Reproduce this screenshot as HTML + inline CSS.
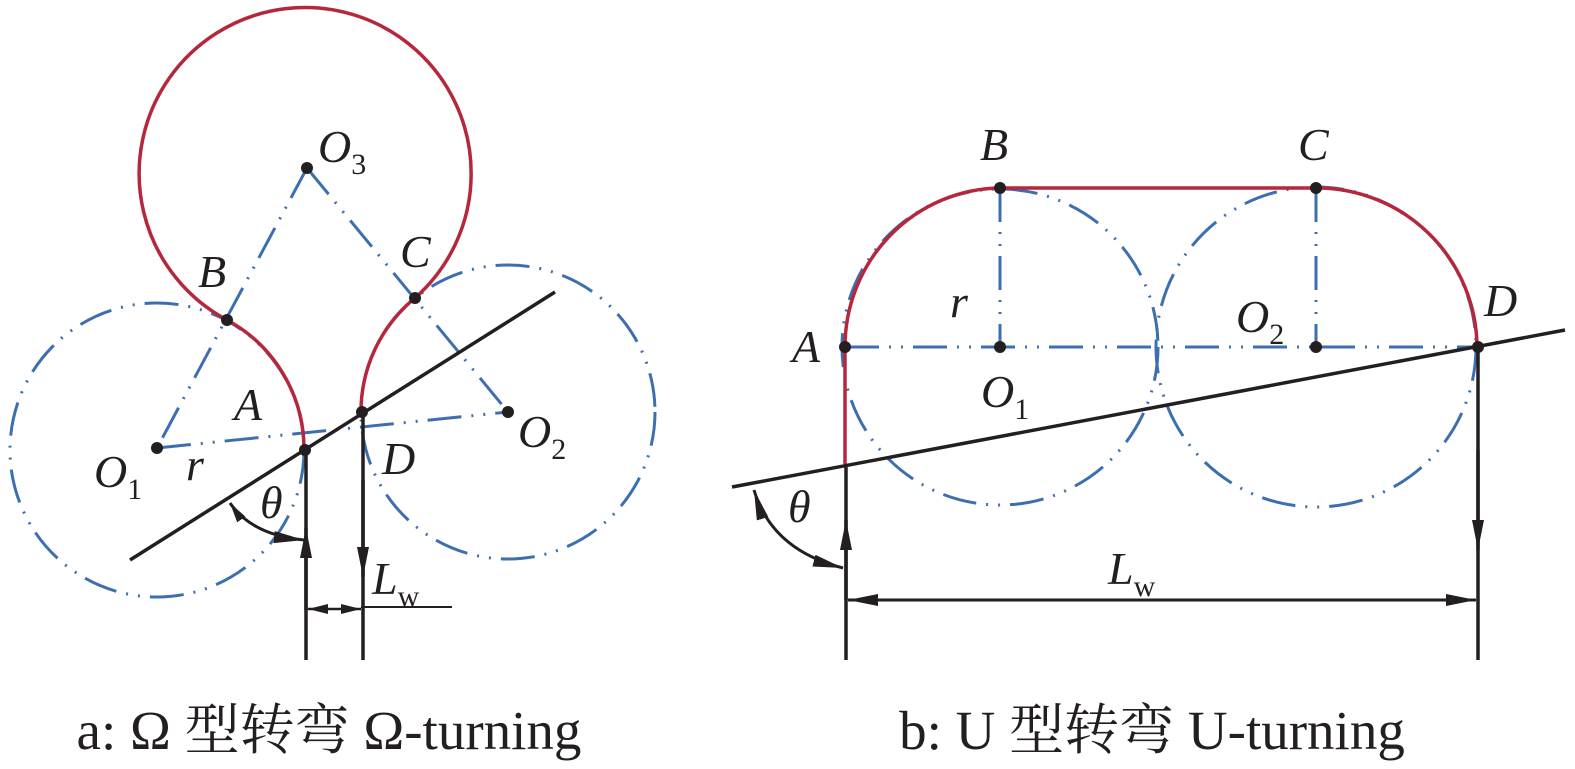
<!DOCTYPE html>
<html><head><meta charset="utf-8"><style>
html,body{margin:0;padding:0;background:#fff;}
svg{display:block;}
text{font-family:"Liberation Serif","Noto Serif CJK SC",serif;fill:#231f20;}
.it{font-style:italic;font-size:46px;}
.sub{font-size:30px;font-style:normal;}
</style></head><body>
<svg width="1575" height="769" viewBox="0 0 1575 769" xmlns="http://www.w3.org/2000/svg">
<defs>
<marker id="ah" viewBox="0 0 30 12" refX="30" refY="6" markerWidth="30" markerHeight="12" markerUnits="userSpaceOnUse" orient="auto-start-reverse"><path d="M0,0 L30,6 L0,12 Z" fill="#231f20"/></marker>
<marker id="as" viewBox="0 0 20 10" refX="20" refY="5" markerWidth="20" markerHeight="10" markerUnits="userSpaceOnUse" orient="auto-start-reverse"><path d="M0,0 L20,5 L0,10 Z" fill="#231f20"/></marker>
</defs>
<g fill="none" stroke-linecap="butt">
<g stroke="#3d6fb0" stroke-width="3" stroke-dasharray="34 10 2 10 2 10">
<circle cx="157" cy="450" r="147"/>
<circle cx="508" cy="412" r="147"/>
<path d="M307,168 L157,448 M307,168 L508,412 M157,448 L508,412"/>
</g>
<path d="M227,320 A147,147 0 0 1 304,450" stroke="#b5273a" stroke-width="3.5"/>
<path d="M227,320 A166,166 0 1 1 415,298" stroke="#b5273a" stroke-width="3.5"/>
<path d="M415,298 A147,147 0 0 0 361,412" stroke="#b5273a" stroke-width="3.5"/>
<path d="M130,560 L555,292" stroke="#231f20" stroke-width="3.5"/>
<path d="M306,660 L306,450" stroke="#231f20" stroke-width="3.5"/>
<path d="M306,610 L306,528" stroke="#231f20" stroke-width="3.5" marker-end="url(#ah)"/>
<path d="M363,412 L363,660" stroke="#231f20" stroke-width="3.5"/>
<path d="M363,480 L363,577" stroke="#231f20" stroke-width="3.5" marker-end="url(#ah)"/>
<path d="M308,609 L361,609" stroke="#231f20" stroke-width="2.5" marker-start="url(#as)" marker-end="url(#as)"/>
<path d="M361,607 L452,607" stroke="#231f20" stroke-width="2"/>
<path d="M230,503 Q252,535 304,540" stroke="#231f20" stroke-width="3" marker-start="url(#as)" marker-end="url(#ah)"/>

<g stroke="#3d6fb0" stroke-width="3" stroke-dasharray="34 10 2 10 2 10">
<circle cx="1000" cy="347" r="158"/>
<circle cx="1316" cy="347" r="160"/>
<path d="M845,347 L1477,347 M1000,188 L1000,347 M1316,188 L1316,347"/>
</g>
<path d="M845,464 L845,347 A157,159 0 0 1 1000,188 L1316,188 A160,160 0 0 1 1477,347" stroke="#b5273a" stroke-width="3.5"/>
<path d="M732,487 L1565,330" stroke="#231f20" stroke-width="3.5"/>
<path d="M846,660 L846,464" stroke="#231f20" stroke-width="3.5"/>
<path d="M846,600 L846,520" stroke="#231f20" stroke-width="3.5" marker-end="url(#ah)"/>
<path d="M1478,348 L1478,660" stroke="#231f20" stroke-width="3.5"/>
<path d="M1478,450 L1478,550" stroke="#231f20" stroke-width="3.5" marker-end="url(#ah)"/>
<path d="M848,600 L1476,600" stroke="#231f20" stroke-width="3" marker-start="url(#ah)" marker-end="url(#ah)"/>
<path d="M754,490 Q772,550 843,568" stroke="#231f20" stroke-width="3" marker-start="url(#ah)" marker-end="url(#ah)"/>
</g>
<g fill="#231f20">
<circle cx="307" cy="168" r="6"/><circle cx="227" cy="320" r="6"/><circle cx="415" cy="298" r="6"/>
<circle cx="157" cy="448" r="6"/><circle cx="508" cy="412" r="6"/><circle cx="305" cy="450" r="6"/><circle cx="362" cy="412" r="6"/>
<circle cx="845" cy="347" r="6"/><circle cx="1000" cy="188" r="6"/><circle cx="1316" cy="188" r="6"/>
<circle cx="1000" cy="347" r="6"/><circle cx="1316" cy="347" r="6"/><circle cx="1478" cy="347" r="6"/>
</g>
<text class="it" x="318" y="162">O<tspan class="sub" dy="12">3</tspan></text>
<text class="it" x="198" y="287">B</text>
<text class="it" x="400" y="267">C</text>
<text class="it" x="234" y="420">A</text>
<text class="it" x="382" y="474">D</text>
<text class="it" x="94" y="487">O<tspan class="sub" dy="12">1</tspan></text>
<text class="it" x="186" y="480">r</text>
<text class="it" x="518" y="447">O<tspan class="sub" dy="12">2</tspan></text>
<text class="it" x="260" y="518">θ</text>
<text class="it" x="372" y="594">L<tspan class="sub" dy="12">w</tspan></text>
<text class="it" x="980" y="160">B</text>
<text class="it" x="1298" y="160">C</text>
<text class="it" x="950" y="317">r</text>
<text class="it" x="1236" y="332">O<tspan class="sub" dy="12">2</tspan></text>
<text class="it" x="981" y="407">O<tspan class="sub" dy="12">1</tspan></text>
<text class="it" x="792" y="362">A</text>
<text class="it" x="1484" y="316">D</text>
<text class="it" x="788" y="522">θ</text>
<text class="it" x="1108" y="584">L<tspan class="sub" dy="12">w</tspan></text>
<text x="329" y="749" font-size="55" text-anchor="middle">a: Ω 型转弯 Ω-turning</text>
<text x="1152" y="749" font-size="55" text-anchor="middle">b: U 型转弯 U-turning</text>
</svg>
</body></html>
